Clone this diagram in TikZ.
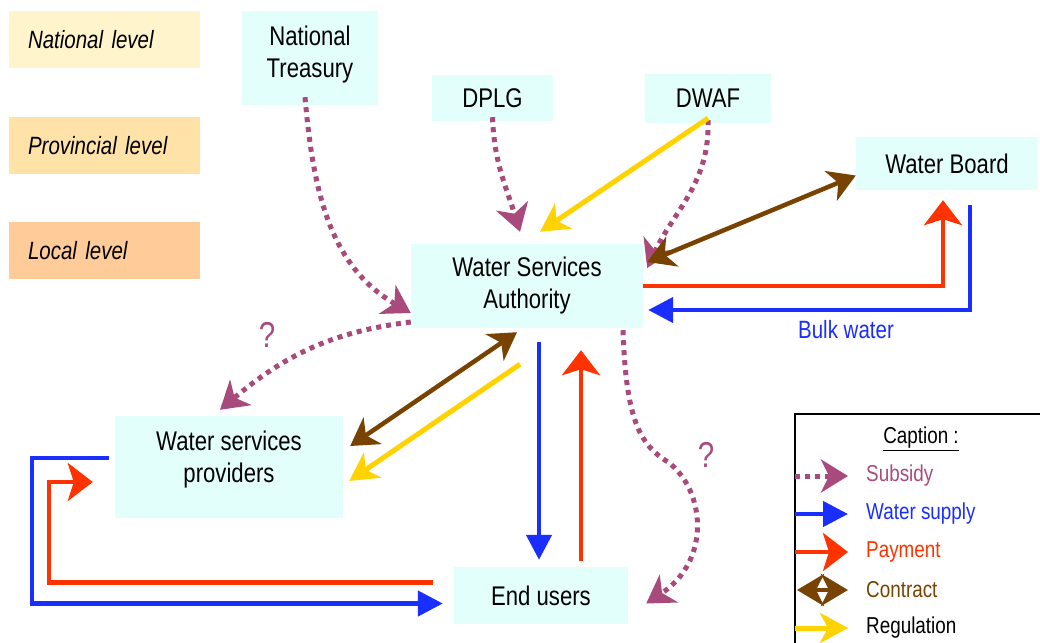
\documentclass[tikz,border=0pt]{standalone}
\usepackage{fontspec}
\setmainfont{Liberation Sans}[FakeStretch=0.82]
\usepackage{xcolor}
\usetikzlibrary{arrows.meta,calc}
\definecolor{cyanbox}{HTML}{E3FFFC}
\definecolor{natl}{HTML}{FFF4CC}
\definecolor{prov}{HTML}{FFE2A8}
\definecolor{locl}{HTML}{FFCC99}
\definecolor{subsidy}{HTML}{A84B7C}
\definecolor{water}{HTML}{1A2EFF}
\definecolor{pay}{HTML}{FF3300}
\definecolor{contract}{HTML}{784300}
\definecolor{reg}{HTML}{FFD200}

\begin{document}
\begin{tikzpicture}[x=1pt, y=-1pt,
  font=\fontsize{27}{32}\selectfont,
  box/.style={fill=cyanbox, inner sep=0pt, align=center},
  lvl/.style={inner sep=0pt, minimum width=191pt, minimum height=57pt, text width=153pt, align=left, font=\fontsize{25}{30}\selectfont\itshape},
  leg/.style={anchor=west, inner sep=0pt, font=\fontsize{23}{27}\selectfont},
  qmark/.style={text=subsidy, inner sep=0pt, font=\fontsize{36}{40}\selectfont},
  subarr/.style={draw=subsidy, line width=5pt, dash pattern=on 5pt off 5pt, -{Stealth[length=27pt,width=33pt,inset=8pt]}},
  wsarr/.style={draw=water, line width=4.5pt, -{Triangle[length=25pt,width=25pt]}},
  payarr/.style={draw=pay, line width=4.5pt, -{Stealth[length=25pt,width=38pt,inset=6pt]}},
  conarr/.style={draw=contract, line width=4.5pt, {Stealth[length=27pt,width=32pt,inset=8pt]}-{Stealth[length=27pt,width=32pt,inset=8pt]}},
  regarr/.style={draw=reg, line width=5pt, -{Stealth[length=28pt,width=30pt,inset=8pt]}}
]
\useasboundingbox (0,0) rectangle (1040,642);

% levels
\node[lvl, fill=natl] (natlvl) at (104.5,39.5) {National level};
\node[lvl, fill=prov] (provlvl) at (104.5,145.5) {Provincial level};
\node[lvl, fill=locl] (loclvl) at (104.5,250.5) {Local level};

% actors
\node[box, minimum width=136pt, minimum height=94pt, text depth=13pt] (nt) at (310,58) {National\\Treasury};
\node[box, minimum width=121pt, minimum height=46pt] (dplg) at (492.5,98) {DPLG};
\node[box, minimum width=126pt, minimum height=49pt] (dwaf) at (708,98.5) {DWAF};
\node[box, minimum width=182pt, minimum height=53pt] (wb) at (947,163.5) {Water Board};
\node[box, minimum width=232pt, minimum height=84pt] (wsa) at (527,286) {Water Services\\Authority};
\node[box, minimum width=228pt, minimum height=102pt, text depth=20pt] (wsp) at (229,467) {Water services\\providers};
\node[box, minimum width=174pt, minimum height=57pt] (eu) at (541,595.5) {End users};

% subsidies
\draw[subarr] ([xshift=-5pt,yshift=8pt]nt.south) to[out=-85,in=150] ([yshift=-27pt]wsa.west);
\draw[subarr] ([yshift=4pt]dplg.south) to[out=-88,in=107] ([xshift=-7pt,yshift=12pt]wsa.north);
\draw[subarr] ([yshift=3pt]dwaf.south) to[out=-88,in=65] ([xshift=4pt,yshift=18pt]wsa.east);
\draw[subarr] ([yshift=-36pt]wsa.west) to[out=187,in=40] ([xshift=-9pt,yshift=6pt]wsp.north);
\draw[subarr] ([xshift=96pt,yshift=-2pt]wsa.south) .. controls (626,420) and (640,445) .. (668,462)
  .. controls (705,490) and (712,560) .. ([xshift=18pt,yshift=-8pt]eu.east);
\node[qmark] (q1) at (267,335) {?};
\node[qmark] (q2) at (706,455) {?};

% regulation
\draw[regarr] ([yshift=5pt]dwaf.south) -- ([xshift=13pt,yshift=12pt]wsa.north);
\draw[regarr] ([xshift=-7pt,yshift=-36pt]wsa.south) -- ([xshift=6pt,yshift=-14pt]wsp.east);

% contracts
\draw[conarr] ([xshift=4pt,yshift=24pt]wsa.east) -- ([yshift=-12pt]wb.west);
\draw[conarr] ([xshift=-10pt,yshift=-4pt]wsa.south) -- ([xshift=7pt,yshift=21pt]wsp.east);

% water and payment
\draw[payarr] (wsa.east) -| ([xshift=-4pt,yshift=-10pt]wb.south);
\draw[wsarr] ([xshift=23pt,yshift=-15pt]wb.south) |- ([xshift=5pt,yshift=-24pt]wsa.east);
\node[text=water, font=\fontsize{25}{30}\selectfont] (bulk) at (846,330) {Bulk water};
\draw[wsarr] ([xshift=12pt,yshift=-14pt]wsa.south) -- ([xshift=-2pt,yshift=7pt]eu.north);
\draw[payarr] ([xshift=40pt,yshift=6pt]eu.north) -- ([xshift=54pt,yshift=-22pt]wsa.south);
\draw[wsarr] ([xshift=-6pt,yshift=9pt]wsp.west) -- ++(-77,0) |- ([xshift=-11pt,yshift=-8pt]eu.west);
\draw[payarr] ([xshift=-21pt,yshift=13pt]eu.west) -- ++(-384,0) |- ([xshift=-22pt,yshift=-15pt]wsp.west);

% caption
\node[draw, line width=2.5pt, outer sep=0pt, anchor=north west, minimum width=270pt, minimum height=260pt] (legend) at (795,414) {};
\node[font=\fontsize{23}{27}\selectfont] (captitle) at (921,439) {\underline{Caption :}};
\node[leg, text=subsidy] (lsub) at (866,476) {Subsidy};
\node[leg, text=water] (lws) at (866,514) {Water supply};
\node[leg, text=pay] (lpay) at (866,552) {Payment};
\node[leg, text=contract] (lcon) at (866,590) {Contract};
\node[leg] (lreg) at (866,628) {Regulation};
\draw[subarr] (legend.west |- lsub) -- ([xshift=-18pt]lsub.west);
\draw[wsarr] (legend.west |- lws) -- ([xshift=-18pt]lws.west);
\draw[payarr] (legend.west |- lpay) -- ([xshift=-18pt]lpay.west);
\draw[conarr] ([xshift=2pt]legend.west |- lcon) -- ([xshift=-18pt]lcon.west);
\draw[regarr] (legend.west |- lreg) -- ([xshift=-18pt]lreg.west);
\end{tikzpicture}
\end{document}
